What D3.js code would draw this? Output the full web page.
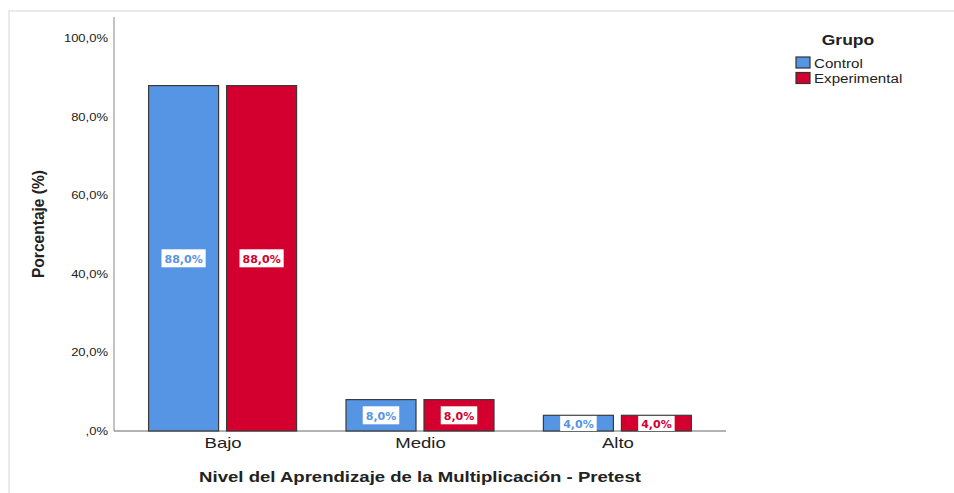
<!DOCTYPE html>
<html>
<head>
<meta charset="utf-8">
<script src="https://cdn.jsdelivr.net/npm/d3@7"></script>
<style>
    body { margin: 0; background: #fff; }
    text { font-family: "Liberation Sans", Arial, sans-serif; fill: #222; }
</style>
</head>
<body>
<svg id="chart"></svg>
<script>
const categories = ["Bajo", "Medio", "Alto"];
const groups = ["Control", "Experimental"];
const control = [88.0, 8.0, 4.0];
const experimental = [88.0, 8.0, 4.0];
const yTicks = [0, 20, 40, 60, 80, 100];

const width = 954;
const height = 493;
const colors = { Control: "#5595e3", Experimental: "#d3002f" };
const values = { Control: control, Experimental: experimental };

const fmt = v => (v === 0 ? "" : Math.floor(v)) + "," + Math.round((v % 1) * 10) + "%";

const svg = d3.select("#chart")
    .attr("width", width)
    .attr("height", height);

// stretch text horizontally like the source image
function stretch(sel, k) {
    sel.each(function () {
        const len = this.getComputedTextLength();
        d3.select(this).attr("textLength", len * k).attr("lengthAdjust", "spacingAndGlyphs");
    });
}

// outer frame
svg.append("path")
    .attr("d", `M9,${height + 5}V11H${width}`)
    .attr("fill", "none")
    .attr("stroke", "#e4e4e4")
    .attr("stroke-width", 1.5);

const x = d3.scalePoint()
    .domain(categories)
    .range([114, 726])
    .padding(0.55);

const xSub = d3.scaleBand()
    .domain(groups)
    .range([-74, 74])
    .paddingInner(8 / 78);

const y = d3.scaleLinear()
    .domain([0, 100])
    .range([431, 38.5]);

// y axis
const yAxis = svg.append("g")
    .attr("transform", "translate(114,0)")
    .call(d3.axisLeft(y).tickValues(yTicks).tickSize(0).tickPadding(6).tickFormat(fmt));
yAxis.select(".domain").attr("stroke", "#888").attr("d", `M0,17V${y(0)}`);
yAxis.selectAll(".tick text")
    .attr("font-family", "Liberation Sans, Arial, sans-serif")
    .attr("font-size", 10)
    .attr("fill", "#222")
    .call(stretch, 1.3);

// x axis
const xAxis = svg.append("g")
    .attr("transform", `translate(0,${y(0)})`)
    .call(d3.axisBottom(x).tickSize(0).tickPadding(7));
xAxis.select(".domain").attr("stroke", "#666").attr("d", "M114,0H726");
xAxis.selectAll(".tick text")
    .attr("font-family", "Liberation Sans, Arial, sans-serif")
    .attr("font-size", 14.5)
    .attr("fill", "#222")
    .call(stretch, 1.28);

// bars
const rows = categories.flatMap((c, i) => groups.map(g => ({ cat: c, group: g, value: values[g][i] })));

const bar = svg.append("g").selectAll("g")
    .data(rows)
    .enter()
    .append("g")
    .attr("transform", d => `translate(${x(d.cat) + xSub(d.group)},0)`);

bar.append("rect")
    .attr("y", d => y(d.value))
    .attr("width", xSub.bandwidth())
    .attr("height", d => y(0) - y(d.value))
    .attr("fill", d => colors[d.group])
    .attr("stroke", "#3a3a3a")
    .attr("stroke-width", 1.2);

const lbl = bar.append("text")
    .attr("x", xSub.bandwidth() / 2)
    .attr("y", d => (y(d.value) + y(0)) / 2 + 4.5)
    .attr("text-anchor", "middle")
    .style("font-family", "DejaVu Sans, sans-serif")
    .style("font-weight", "bold")
    .style("font-size", "11px")
    .style("fill", d => colors[d.group])
    .text(d => fmt(d.value));

lbl.each(function (d) {
    const w = this.getComputedTextLength() + 6;
    const mid = (y(d.value) + y(0)) / 2;
    const top = Math.max(mid - 9, y(d.value) + 0.6);
    const bottom = Math.min(mid + 9, y(0));
    d3.select(this.parentNode).insert("rect", "text")
        .attr("x", xSub.bandwidth() / 2 - w / 2)
        .attr("y", top)
        .attr("width", w)
        .attr("height", bottom - top)
        .attr("fill", "#fff");
});

// axis titles
svg.append("text")
    .attr("x", 420)
    .attr("y", 482)
    .attr("text-anchor", "middle")
    .attr("font-size", 14.5)
    .attr("font-weight", "bold")
    .text("Nivel del Aprendizaje de la Multiplicación - Pretest")
    .call(stretch, 1.28);

svg.append("text")
    .attr("transform", "translate(44,224) rotate(-90)")
    .attr("text-anchor", "middle")
    .attr("font-size", 17)
    .attr("font-weight", "bold")
    .attr("textLength", 108)
    .attr("lengthAdjust", "spacingAndGlyphs")
    .text("Porcentaje (%)");

// legend
const legend = svg.append("g");
legend.append("text")
    .attr("x", 848)
    .attr("y", 45)
    .attr("text-anchor", "middle")
    .attr("font-size", 14)
    .attr("font-weight", "bold")
    .text("Grupo")
    .call(stretch, 1.25);

const item = legend.selectAll(".item")
    .data(groups)
    .enter()
    .append("g")
    .attr("class", "item")
    .attr("transform", (d, i) => `translate(796,${57 + i * 15.5})`);

item.append("rect")
    .attr("width", 14)
    .attr("height", 11)
    .attr("fill", d => colors[d])
    .attr("stroke", "#333")
    .attr("stroke-width", 1.2);

item.append("text")
    .attr("x", 18)
    .attr("y", 10.5)
    .attr("font-size", 12)
    .text(d => d)
    .call(stretch, 1.26);
</script>
</body>
</html>
